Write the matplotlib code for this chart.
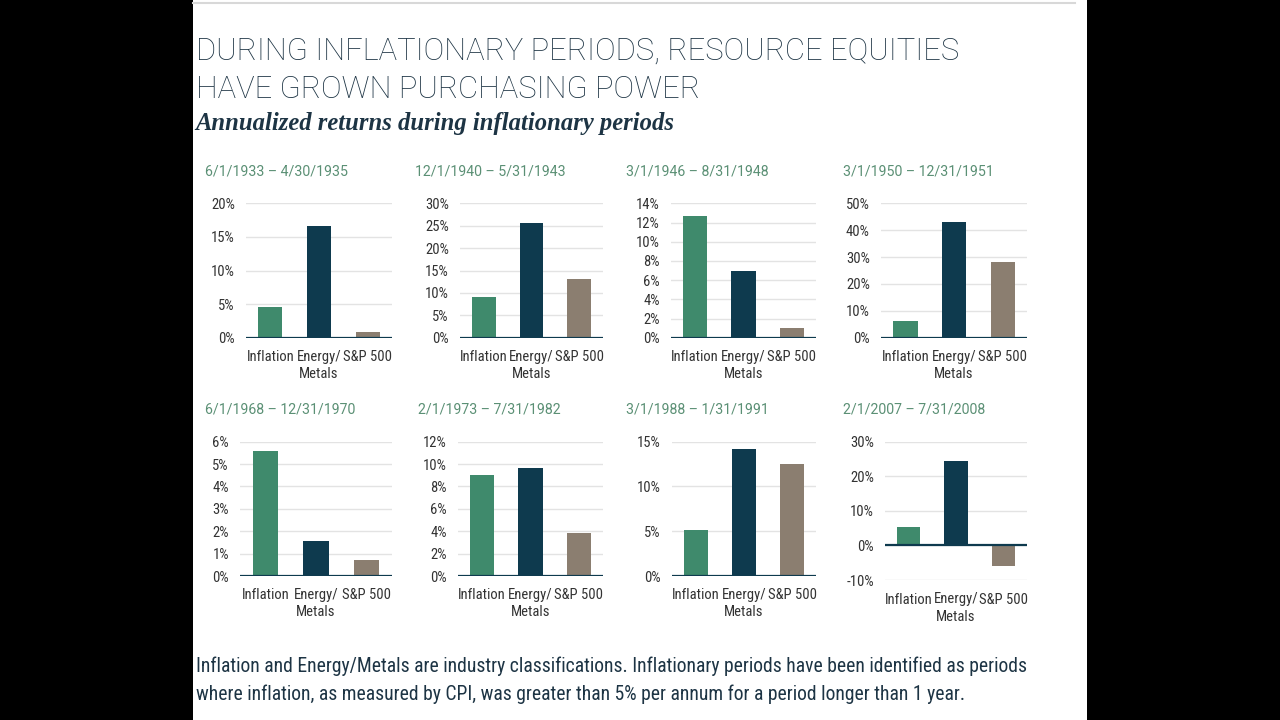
import matplotlib
matplotlib.use('Agg')
import matplotlib.pyplot as plt
from matplotlib.patches import Rectangle
from matplotlib.lines import Line2D

# data (annualized returns, %)
periods = ['6/1/1933 \u2013 4/30/1935', '12/1/1940 \u2013 5/31/1943',
           '3/1/1946 \u2013 8/31/1948', '3/1/1950 \u2013 12/31/1951',
           '6/1/1968 \u2013 12/31/1970', '2/1/1973 \u2013 7/31/1982',
           '3/1/1988 \u2013 1/31/1991', '2/1/2007 \u2013 7/31/2008']
categories = ['Inflation', 'Energy/\nMetals', 'S&P 500']
inflation = [4.6, 9.0, 12.7, 6.2, 5.6, 9.0, 5.1, 5.3]
energy_metals = [16.6, 25.7, 7.0, 42.9, 1.55, 9.65, 14.15, 24.3]
sp500 = [0.85, 13.0, 1.05, 28.0, 0.7, 3.8, 12.5, -5.9]
y_min = [0, 0, 0, 0, 0, 0, 0, -10]
y_max = [20, 30, 14, 50, 6, 12, 15, 30]
y_step = [5, 5, 2, 10, 1, 2, 5, 10]

GREEN = '#3f8a6c'
NAVY = '#0e3a4e'
TAUPE = '#8b7e70'
TITLE_GREEN = '#5b9075'
TEXT = '#1d3444'
NARROW = ['Roboto Condensed', 'DejaVu Sans']

W, H = 1280, 720
fig = plt.figure(figsize=(12.8, 7.2), dpi=100, facecolor='black')

# white page area
fig.patches.append(Rectangle((193 / W, 0), (1087 - 193) / W, 1, transform=fig.transFigure,
                             facecolor='white', edgecolor='none', zorder=-10))
fig.lines.append(Line2D([193 / W, 1075 / W], [1 - 2.5 / H, 1 - 2.5 / H], transform=fig.transFigure,
                        color='#d8d8d8', lw=1.5, zorder=-5))


def px_axes(left, top, right, bottom):
    return fig.add_axes([left / W, 1 - bottom / H, (right - left) / W, (bottom - top) / H])


# panel positions in pixels (left, right); rows (top, bottom)
lefts = [246, 460, 671, 881, 240, 458, 672, 885]
rights = [392, 603, 816, 1027, 392, 603, 816, 1027]
title_x = [205, 415, 626, 843, 205, 418, 626, 843]
rows = [(203.3, 337.7), (441.7, 576)]
title_y = [172, 409]

for i in range(8):
    r = i // 4
    top, bottom = rows[r]
    if y_min[i] < 0:
        bottom = 580
    ax = px_axes(lefts[i], top, rights[i], bottom)
    vals = [inflation[i], energy_metals[i], sp500[i]]
    ax.bar(range(3), vals, width=0.5, color=[GREEN, NAVY, TAUPE], zorder=3)
    ax.set_xlim(-0.5, 2.5)
    ax.set_ylim(y_min[i], y_max[i])
    ticks = list(range(y_min[i], y_max[i] + 1, y_step[i]))
    ax.set_yticks(ticks)
    ax.set_yticklabels(['{}%'.format(t) for t in ticks], fontfamily=NARROW, fontsize=10.5, color='#333333')
    ax.set_xticks(range(3))
    ax.set_xticklabels(categories, fontfamily=NARROW, fontsize=10.5, color='#333333', linespacing=1.3)
    ax.tick_params(length=0)
    ax.tick_params(axis='y', pad=8)
    ax.tick_params(axis='x', pad=8.5 if y_min[i] == 0 else 9)
    for s in ax.spines.values():
        s.set_visible(False)
    ax.grid(axis='y', color='#e3e3e3', lw=1, zorder=0)
    ax.axhline(0, color=NAVY, lw=1.6, zorder=4)
    ax.set_facecolor('none')
    fig.text(title_x[i] / W, 1 - title_y[r] / H, periods[i], fontfamily='Roboto', fontsize=10.2,
             color=TITLE_GREEN, va='center', ha='left')

fig.text(196 / W, 1 - 51.5 / H, 'DURING INFLATIONARY PERIODS, RESOURCE EQUITIES', fontfamily='Roboto',
         fontweight='light', fontsize=22.2, color=TEXT, va='center', ha='left')
fig.text(196 / W, 1 - 89.5 / H, 'HAVE GROWN PURCHASING POWER', fontfamily='Roboto',
         fontweight='light', fontsize=22.2, color=TEXT, va='center', ha='left')
fig.text(195 / W, 1 - 123.5 / H, 'Annualized returns during inflationary periods', fontfamily='Liberation Serif',
         fontweight='bold', fontstyle='italic', fontsize=17.7, color=TEXT, va='center', ha='left')

fig.text(196 / W, 1 - 666 / H, 'Inflation and Energy/Metals are industry classifications. Inflationary periods '
         'have been identified as periods', fontfamily=NARROW, fontsize=14.1,
         color=TEXT, va='center', ha='left')
fig.text(196 / W, 1 - 694 / H, 'where inflation, as measured by CPI, was greater than 5% per annum for a period '
         'longer than 1 year.', fontfamily=NARROW, fontsize=14.1,
         color=TEXT, va='center', ha='left')

fig.savefig('out.png', dpi=100, facecolor=fig.get_facecolor())
